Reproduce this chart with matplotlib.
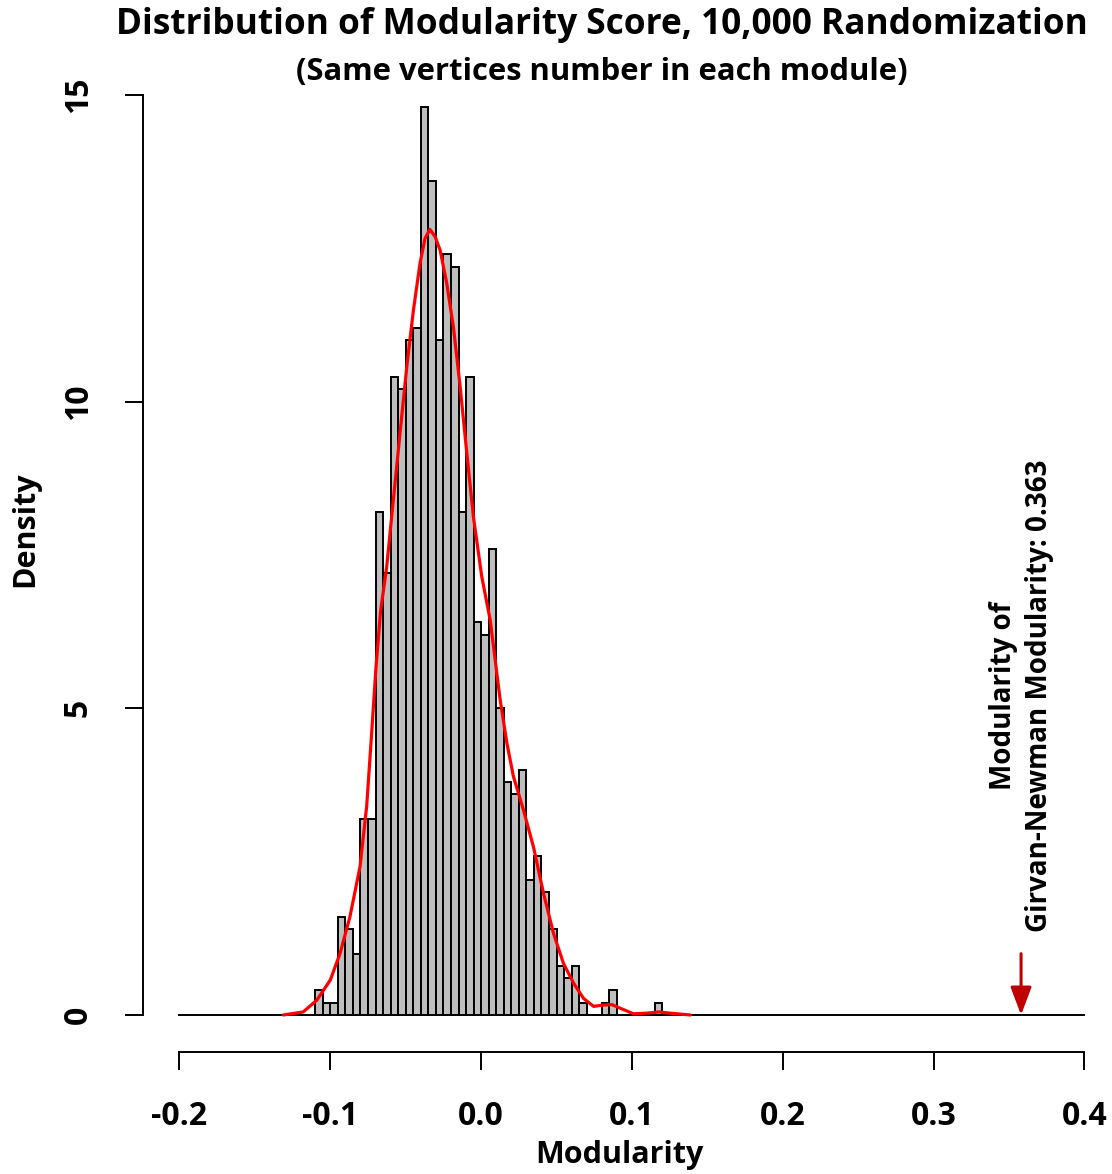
import numpy as np
import matplotlib.pyplot as plt
from matplotlib import font_manager

# --- data ---
bin_start = -0.11
bin_width = 0.005
density = [0.4, 0.2, 0.2, 1.6, 1.4, 1.0, 3.2, 3.2, 8.2, 7.2,
           10.4, 10.2, 11.0, 11.2, 14.8, 13.6, 11.0, 12.4, 12.2, 8.2,
           10.4, 6.4, 6.2, 7.6, 5.0, 3.8, 3.6, 4.0, 2.2, 2.6,
           2.0, 1.4, 0.8, 0.6, 0.8, 0.2, 0.0, 0.0, 0.2, 0.4,
           0.0, 0.0, 0.0, 0.0, 0.0, 0.2]

# red density curve
kde_x = [-0.1312, -0.118, -0.109, -0.100, -0.0936, -0.087, -0.0803, -0.0759,
         -0.0726, -0.0697, -0.0666, -0.0626, -0.0582, -0.0538, -0.0493, -0.0449,
         -0.0405, -0.0372, -0.0340, -0.0305, -0.0272, -0.0228, -0.0184, -0.0139,
         -0.0095, -0.0051, 0.0004, 0.0060, 0.0126, 0.0171, 0.0214, 0.0281,
         0.0347, 0.0414, 0.0480, 0.0546, 0.0613, 0.0679, 0.0746, 0.0801,
         0.0867, 0.0923, 0.101, 0.110, 0.1177, 0.1254, 0.1387]
kde_y = [0.0, 0.05, 0.24, 0.57, 1.0, 1.6, 2.42, 3.40,
         4.59, 5.68, 6.6, 7.31, 8.40, 9.48, 10.57, 11.49,
         12.26, 12.66, 12.81, 12.69, 12.47, 11.93, 11.22, 10.24,
         9.16, 8.12, 7.15, 6.44, 5.14, 4.43, 3.89, 3.34,
         2.74, 1.98, 1.33, 0.84, 0.52, 0.27, 0.14, 0.16,
         0.17, 0.11, 0.02, 0.03, 0.05, 0.03, 0.0]

gn_value = 0.358
gn_label = "Modularity of\nGirvan-Newman Modularity: 0.363"

x_ticks = [-0.2, -0.1, 0.0, 0.1, 0.2, 0.3, 0.4]
y_ticks = [0, 5, 10, 15]

# --- font ---
names = {f.name for f in font_manager.fontManager.ttflist}
FONT = "Liberation Sans Narrow" if "Liberation Sans Narrow" in names else "Open Sans"
plt.rcParams["font.family"] = [FONT, "DejaVu Sans"]
plt.rcParams["font.weight"] = "bold"

W, H = 1112, 1174
fig = plt.figure(figsize=(W / 100, H / 100), dpi=100)
# plot region in pixels: x -0.224..0.424 -> 143.3..1120.6, y -0.6..15.6 -> 1051.8..58.2
left, right, top, bottom = 143.3, 1120.6, 58.2, 1051.8
ax = fig.add_axes([left / W, 1 - bottom / H, (right - left) / W, (bottom - top) / H])
ax.set_xlim(-0.224, 0.424)
ax.set_ylim(-0.6, 15.6)

edges = bin_start + bin_width * np.arange(len(density))
ax.bar(edges, density, width=bin_width, align="edge", color="#BEBEBE",
       edgecolor="black", linewidth=1.4, zorder=2)
ax.plot([-0.2, 0.4], [0, 0], color="black", lw=1.4, zorder=3)
ax.plot(kde_x, kde_y, color="red", lw=2.3, zorder=4, solid_capstyle="round")

# arrow + label for observed modularity
ax.annotate("", xy=(gn_value, 0), xytext=(gn_value, 1.0),
            arrowprops=dict(arrowstyle="-|>,head_length=0.85,head_width=0.32",
                            mutation_scale=20, color="#C00000", lw=2.2,
                            shrinkA=0, shrinkB=0), zorder=5)
ax.text(0.3584, 5.2, gn_label, rotation=90, ha="center", va="center",
        multialignment="center", fontsize=20, fontweight="bold",
        linespacing=1.3)

# axes in R style
for s in ["top", "right"]:
    ax.spines[s].set_visible(False)
ax.spines["left"].set_bounds(0, 15)
ax.spines["bottom"].set_bounds(-0.2, 0.4)
for s in ["left", "bottom"]:
    ax.spines[s].set_linewidth(1.4)
ax.set_xticks(x_ticks)
ax.set_xticklabels([f"{t:.1f}" for t in x_ticks])
ax.set_yticks(y_ticks)
ax.set_yticklabels([str(t) for t in y_ticks], rotation=90, va="center")
ax.tick_params(axis="both", direction="out", length=13, width=1.4,
               labelsize=23, pad=22)

fig.text(619 / W, 1 - 1155 / H, "Modularity", ha="center", va="center",
         fontsize=22, fontweight="bold")
fig.text(25 / W, 1 - 529 / H, "Density", ha="center", va="center",
         rotation=90, fontsize=22, fontweight="bold")

fig.text(602 / W, 1 - 25 / H, "Distribution of Modularity Score, 10,000 Randomization",
         ha="center", va="center", fontsize=25.4, fontweight="bold")
fig.text(602 / W, 1 - 72 / H, "(Same vertices number in each module)",
         ha="center", va="center", fontsize=22.3, fontweight="bold")

fig.savefig("out.png", dpi=100)
